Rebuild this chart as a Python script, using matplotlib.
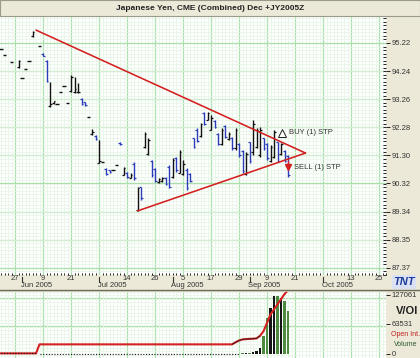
import matplotlib
matplotlib.use('Agg')
import matplotlib.pyplot as plt
import matplotlib.transforms as mtransforms
from matplotlib.patches import Rectangle
from matplotlib.lines import Line2D
import numpy as np

plt.rcParams['font.family'] = ['Liberation Sans', 'DejaVu Sans']

# ---------------- data ----------------
title = "Japanese Yen, CME (Combined) Dec +JY2005Z"

# trading-day index (0 = 27 May 2005)
days = [-4, -3, -1, 1, 2, 3, 4, 5, 7, 8, 9, 10, 11, 12, 13, 14, 15, 16, 17, 18, 19, 20,
        21, 22, 23, 24, 25, 26, 27, 28, 29, 30, 31, 32, 33, 34, 35, 36,
        37, 38, 39, 40, 41, 42, 43, 44, 45, 46, 47, 48, 49, 50, 51, 52, 53, 54, 55, 56, 57,
        58, 59, 60, 61, 62, 63, 64, 65, 66, 67, 68, 69, 70, 71, 72, 73, 74, 75, 76, 77, 78]
highs = [95.02, 94.80, 94.56, 94.62, 94.00, 94.31, 94.59, 95.64, 95.12, 94.87, 94.63, 93.86,
         93.20, 93.10, 93.50, 93.72, 93.13, 94.10, 94.03, 93.82, 93.30, 93.16,
         92.64, 92.22, 92.01, 91.84, 91.07, 90.86, 90.80, 90.79, 90.96, 91.75, 90.89, 90.72,
         90.70, 91.07, 90.20, 90.20,
         92.11, 91.91, 91.14, 90.86, 90.51, 90.54, 90.54, 90.96, 91.21, 91.24, 91.49, 91.14,
         90.86, 90.68, 91.91, 92.25, 92.43, 92.81, 92.81, 92.71, 92.53, 92.08, 92.25, 92.36,
         92.11, 91.94, 92.25, 91.73, 91.49, 91.42, 91.77, 92.53, 92.25, 92.29, 91.91, 91.73,
         91.66, 92.18, 91.77, 91.73, 91.49, 91.31]
lows = [95.02, 94.80, 94.56, 94.35, 94.00, 94.31, 94.59, 95.43, 95.12, 94.77, 93.86, 92.99,
        93.10, 93.10, 93.50, 93.72, 93.13, 93.50, 93.48, 93.48, 93.05, 93.02,
        92.64, 92.01, 91.84, 91.03, 91.07, 90.62, 90.70, 90.79, 90.96, 91.66, 90.60, 90.51,
        90.50, 90.44, 89.36, 89.74,
        91.56, 91.31, 90.54, 90.37, 90.34, 90.37, 90.27, 90.16, 90.51, 90.72, 90.68, 90.61,
        90.09, 90.37, 91.56, 91.77, 91.94, 92.36, 92.53, 92.18, 92.25, 91.66, 91.66, 91.91,
        91.84, 91.49, 91.49, 91.24, 90.68, 90.61, 91.03, 91.31, 91.56, 91.24, 91.49, 91.14,
        91.07, 91.21, 91.07, 91.31, 91.07, 90.54]
opens = [95.02, 94.80, 94.56, 94.38, 94.00, 94.31, 94.59, 95.45, 95.12, 94.85, 94.60, 93.02,
         93.12, 93.10, 93.50, 93.72, 93.13, 93.55, 93.50, 93.50, 93.28, 93.15,
         92.64, 92.05, 91.98, 91.05, 91.07, 90.84, 90.78, 90.79, 90.96, 91.74, 90.62, 90.70,
         90.52, 91.00, 89.40, 90.18,
         91.60, 91.35, 91.10, 90.84, 90.36, 90.40, 90.52, 90.90, 90.55, 91.20, 90.70, 90.65,
         90.80, 90.65, 91.90, 92.20, 91.98, 92.78, 92.55, 92.20, 92.50, 92.05, 91.70, 92.33,
         91.88, 91.90, 91.55, 91.70, 91.45, 90.65, 91.75, 91.40, 91.60, 91.30, 91.90, 91.70,
         91.10, 91.25, 91.75, 91.35, 91.45, 91.28]
closes = [95.02, 94.80, 94.56, 94.60, 94.00, 94.31, 94.59, 95.62, 95.12, 94.78, 93.90, 93.10,
          93.18, 93.10, 93.50, 93.72, 93.13, 94.05, 93.60, 93.52, 93.08, 93.05,
          92.64, 92.10, 91.86, 91.10, 91.07, 90.65, 90.72, 90.79, 90.96, 91.68, 90.85, 90.55,
          90.62, 90.50, 90.15, 89.80,
          92.05, 91.85, 90.60, 90.40, 90.48, 90.50, 90.30, 90.20, 91.15, 90.80, 91.40, 91.00,
          90.15, 90.40, 91.60, 91.80, 92.40, 92.40, 92.78, 92.60, 92.30, 91.70, 92.20, 91.95,
          92.05, 91.55, 92.20, 91.30, 90.75, 91.35, 91.10, 92.40, 92.20, 92.20, 91.55, 91.20,
          91.60, 92.10, 91.10, 91.70, 91.10, 90.60]

date_tick_pos = [0, 8, 16, 24, 32, 40, 48, 56, 64, 72, 80, 88, 96, 104]
date_tick_labels = ['27', '9', '21', '', '14', '26', '5', '17', '29', '9', '21', '', '13', '25']
month_pos = [2, 24, 45, 67, 88]
month_labels = ['Jun 2005', 'Jul 2005', 'Aug 2005', 'Sep 2005', 'Oct 2005']

price_ticks = [95.22, 94.24, 93.26, 92.28, 91.30, 90.32, 89.34, 88.35, 87.37]
price_labels = ['95.22', '94.24', '93.26', '92.28', '91.30', '90.32', '89.34', '88.35', '87.37']

tri_upper_days = [6, 83]
tri_upper_prices = [95.67, 91.38]
tri_lower_days = [35, 83]
tri_lower_prices = [89.36, 91.38]

buy_day, buy_price = 76.3, 92.08
sell_day, sell_price = 78.0, 90.89

vol_days = [65, 66, 67, 68, 69, 70, 71, 72, 73, 74, 75, 76, 77, 78]
vol_values = [1500, 1500, 2000, 3000, 6000, 12000, 38000, 76000, 97000, 123000, 123000,
              119000, 112000, 91000]
oi_days = [-4, 6, 7, 62, 63, 64, 65, 66, 67, 68, 69, 70, 71, 72, 73, 74, 75, 76, 77, 78]
oi_values = [300, 300, 19700, 19700, 24000, 28000, 30300, 31000, 31500, 31800, 32500, 38000,
             48000, 66000, 84000, 95000, 106000, 117000, 128000, 136000]
voi_ticks = [0, 63531, 127061]
voi_labels = ['0', '63531', '127061']

# ---------------- layout ----------------
W, H = 420, 358
BEIGE = '#ECE9D8'
fig = plt.figure(figsize=(W / 100, H / 100), dpi=100, facecolor=BEIGE)

def fx(px):
    return px / W

def fy(py):
    return 1 - py / H

MAJ = '#a9dfa9'
MIN = '#e5f4e5'
TXT = '#333333'
RED = '#d42020'
BLUE = '#2a3cb8'
FS = 5.5

# title bar
fig.patches.append(Rectangle((0, fy(16)), 1, 16 / H, transform=fig.transFigure,
                             facecolor=BEIGE, edgecolor='#9a9a8a', lw=0.8, zorder=0))
fig.text(0.5, fy(8), title, ha='center', va='center', fontsize=6, fontweight='bold', color='#222222')

# main price axes
top, bot = 17, 275
ax = fig.add_axes([0, fy(bot), fx(386), (bot - top) / H])
ax.set_facecolor('white')
ax.set_xlim(-4.29, 106)
ax.set_ylim(87.125, 96.127)
for s in ax.spines.values():
    s.set_visible(False)

ax.set_xticks(date_tick_pos)
ax.set_xticks(np.arange(-4, 107, 1), minor=True)
ax.yaxis.tick_right()
ax.set_yticks(price_ticks)
ax.set_yticklabels(price_labels)
step = (95.22 - 87.37) / 64
ax.set_yticks(87.37 + step * np.arange(-2, 72), minor=True)
ax.tick_params(axis='x', which='major', length=0, labelbottom=False)
ax.tick_params(axis='x', which='minor', length=1.5, width=0.7, direction='in', color='#222222')
ax.tick_params(axis='y', which='major', length=3, width=0.7, direction='out', pad=1,
               labelsize=FS, labelcolor=TXT, color='#222222')
ax.tick_params(axis='y', which='minor', length=2, width=0.7, direction='in', color='#222222')
ax.grid(which='minor', color=MIN, lw=0.5)
ax.grid(which='major', color=MAJ, lw=0.9)
ax.set_axisbelow(True)

# date labels
trans = mtransforms.blended_transform_factory(ax.transData, ax.transAxes)
hpx = bot - top
for p, lab in zip(date_tick_pos, date_tick_labels):
    if lab:
        ax.text(p, -3.5 / hpx, lab, transform=trans, ha='center', va='center',
                fontsize=FS, color=TXT, clip_on=False)
for p, lab in zip(month_pos, month_labels):
    ax.plot([p, p], [-1.5 / hpx, -7 / hpx], transform=trans, color='#333333', lw=0.8,
            clip_on=False)
    ax.text(p - 0.3, -10.5 / hpx, lab, transform=trans, ha='left', va='center',
            fontsize=FS, color=TXT, clip_on=False)

# OHLC bars
for d, h, l, o, c in zip(days, highs, lows, opens, closes):
    col = BLUE if c < o else '#111111'
    if h == l:
        ax.hlines(h, d - 0.45, d + 0.45, color=col, lw=1.0)
    else:
        ax.vlines(d, l, h, color=col, lw=1.0)
        ax.hlines(o, d - 0.5, d, color=col, lw=0.9)
        ax.hlines(c, d, d + 0.5, color=col, lw=0.9)

# triangle
ax.plot(tri_upper_days, tri_upper_prices, color=RED, lw=1.15, solid_capstyle='round', zorder=5)
ax.plot(tri_lower_days, tri_lower_prices, color=RED, lw=1.15, solid_capstyle='round', zorder=5)

# orders
ax.plot(buy_day, buy_price, marker='^', ms=5.5, mfc='white', mec='#222222', mew=0.7, zorder=6)
ax.text(buy_day + 2.1, buy_price + 0.02, 'BUY (1) STP', fontsize=FS, color=TXT, va='center', zorder=6)
ax.plot(sell_day, sell_price, marker='v', ms=4.5, color=RED, zorder=6)
ax.plot([sell_day, sell_day], [sell_price + 0.05, sell_price + 0.2], color=RED, lw=1.0, zorder=6)
ax.text(sell_day + 1.6, sell_price - 0.02, 'SELL (1) STP', fontsize=FS, color=TXT, va='center', zorder=6)

# separators
fig.add_artist(Line2D([0, 1], [fy(289.5), fy(289.5)], color='#6e6e58', lw=1.0))
fig.add_artist(Line2D([0, 1], [fy(290.8), fy(290.8)], color='#c8c6b4', lw=0.6))

# TNT logo
fig.text(fx(404), fy(282), 'TNT', ha='center', va='center', fontsize=8, fontweight='bold',
         fontstyle='italic', color='#1e3c9c',
         bbox=dict(boxstyle='square,pad=0.15', facecolor='#d9e1f2', edgecolor='none'))

# volume / open interest axes
vtop, vbot = 291, 358
ppx = 127061 / 59.0
axv = fig.add_axes([0, 0, fx(386), (vbot - vtop) / H])
axv.set_facecolor('white')
axv.set_xlim(-4.29, 106)
axv.set_ylim(-4.5 * ppx, 62.5 * ppx)
for s in axv.spines.values():
    s.set_visible(False)
axv.set_xticks(date_tick_pos)
axv.set_xticks(np.arange(-4, 107, 1), minor=True)
axv.tick_params(axis='x', which='both', length=0, labelbottom=False)
axv.yaxis.tick_right()
axv.set_yticks(voi_ticks)
axv.set_yticklabels(voi_labels)
axv.set_yticks(np.arange(-1 * ppx, 62.5 * ppx, 3.5 * ppx), minor=True)
axv.tick_params(axis='y', which='major', length=3, width=0.7, direction='out', pad=1,
                labelsize=FS, labelcolor=TXT, color='#222222')
axv.tick_params(axis='y', which='minor', length=0)
axv.grid(which='minor', color=MIN, lw=0.5)
axv.grid(axis='x', which='major', color=MAJ, lw=0.9)
for yv in [28 * ppx, 56 * ppx]:
    axv.axhline(yv, color=MAJ, lw=0.9, zorder=0.5)
axv.set_axisbelow(True)

vcols = []
for d in vol_days:
    k = days.index(d)
    vcols.append('#4e8a40' if closes[k] < opens[k] else '#151515')
axv.bar(vol_days, vol_values, width=0.6, color=vcols, zorder=3)
axv.plot([7, 64], [0, 0], ls=(0, (1, 1.5)), color='#111111', lw=0.8, zorder=3)
axv.plot(oi_days, oi_values, color=RED, lw=1.5, zorder=4)
axv.plot(oi_days[3:12], oi_values[3:12], color='#3a1a1a', lw=0.6, zorder=5)
axv.plot([-4, 6], [300, 300], ls=(0, (1, 1.5)), color='#111111', lw=0.8, zorder=5)

fig.text(fx(407), fy(311), 'V/OI', ha='center', va='center', fontsize=8, fontweight='bold', color='#222222')
fig.text(fx(406), fy(335), 'Open Int.', ha='center', va='center', fontsize=5, color='#c02020')
fig.text(fx(406), fy(345), 'Volume', ha='center', va='center', fontsize=5, color='#2f5a2f')

fig.savefig('out.png', dpi=100, facecolor=BEIGE)
